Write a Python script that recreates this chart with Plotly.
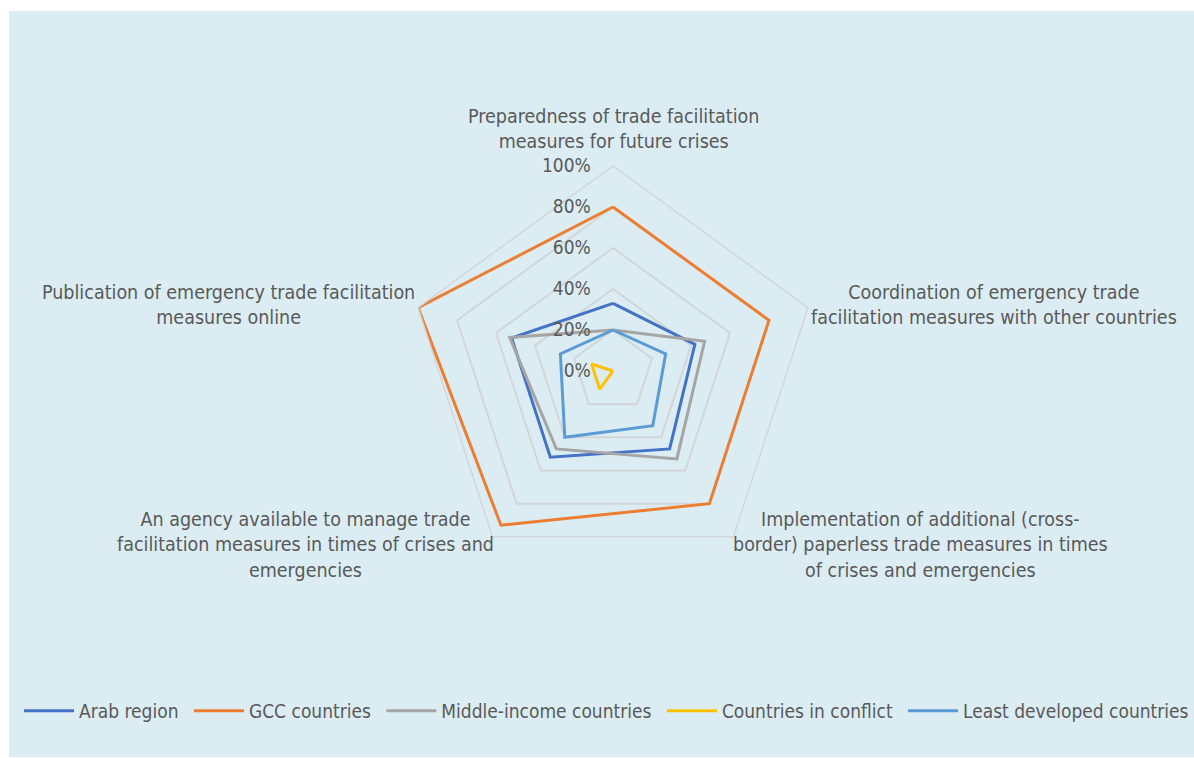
import plotly.graph_objects as go

# Survey dimensions (clockwise from the top)
categories = [
    "Preparedness of trade facilitation measures for future crises",
    "Coordination of emergency trade facilitation measures with other countries",
    "Implementation of additional (cross-border) paperless trade measures in times of crises and emergencies",
    "An agency available to manage trade facilitation measures in times of crises and emergencies",
    "Publication of emergency trade facilitation measures online",
]
# Wrapped versions of the category names used as axis labels
category_labels = [
    "Preparedness of trade facilitation<br>measures for future crises",
    "Coordination of emergency trade<br>facilitation measures with other countries",
    "Implementation of additional (cross-<br>border) paperless trade measures in times<br>of crises and emergencies",
    "An agency available to manage trade<br>facilitation measures in times of crises and<br>emergencies",
    "Publication of emergency trade facilitation<br>measures online",
]

series_names = [
    "Arab region",
    "GCC countries",
    "Middle-income countries",
    "Countries in conflict",
    "Least developed countries",
]
arab_region = [0.33, 0.42, 0.47, 0.52, 0.52]
gcc_countries = [0.80, 0.80, 0.80, 0.93, 1.00]
middle_income = [0.20, 0.47, 0.53, 0.47, 0.53]
countries_in_conflict = [0.00, 0.00, 0.00, 0.11, 0.11]
least_developed = [0.20, 0.27, 0.33, 0.40, 0.27]
series_values = [arab_region, gcc_countries, middle_income,
                 countries_in_conflict, least_developed]
series_colors = ["#4472C4", "#ED7D31", "#A5A5A5", "#FFC000", "#5B9BD5"]

radial_ticks = [0, 0.2, 0.4, 0.6, 0.8, 1.0]

FONT = "Liberation Sans Narrow, DejaVu Sans Condensed, Arial Narrow, sans-serif"
TEXT_COLOR = "#595959"
GRID_COLOR = "#D3D6D8"
PANEL_COLOR = "#DBEDF3"
NBSP = "\u00a0"  # widens the spacing between legend entries

fig = go.Figure()
for i, (name, vals, color) in enumerate(zip(series_names, series_values, series_colors)):
    legend_name = name if i == len(series_names) - 1 else name + NBSP
    fig.add_trace(go.Scatterpolar(
        r=vals + vals[:1],
        theta=categories + categories[:1],
        mode="lines",
        name=legend_name,
        line=dict(color=color, width=3),
        hovertemplate=name + ": %{r:.0%}<extra></extra>",
    ))

fig.update_layout(
    width=1194,
    height=758,
    margin=dict(l=0, r=0, t=0, b=0),
    paper_bgcolor="white",
    plot_bgcolor="rgba(0,0,0,0)",
    font=dict(family=FONT, size=20, color=TEXT_COLOR),
    shapes=[dict(
        type="rect", xref="paper", yref="paper",
        x0=9 / 1194, x1=1.0, y0=1 / 758, y1=747 / 758,
        fillcolor=PANEL_COLOR, line=dict(width=0), layer="below",
    )],
    polar=dict(
        domain=dict(x=[408 / 1194, 818 / 1194], y=[182 / 758, 592 / 758]),
        bgcolor="rgba(0,0,0,0)",
        gridshape="linear",
        radialaxis=dict(
            range=[0, 1],
            tickvals=radial_ticks,
            tickformat=".0%",
            angle=90,
            tickangle=90,
            side="counterclockwise",
            showline=False,
            ticks="outside",
            ticklen=15,
            tickcolor="rgba(0,0,0,0)",
            showgrid=True,
            gridcolor=GRID_COLOR,
            gridwidth=1.5,
            tickfont=dict(family=FONT, size=19, color=TEXT_COLOR),
        ),
        angularaxis=dict(
            categoryarray=categories,
            categoryorder="array",
            direction="clockwise",
            rotation=90,
            showgrid=False,
            showticklabels=False,
            ticks="",
            showline=True,
            linecolor=GRID_COLOR,
            linewidth=1.5,
        ),
    ),
    legend=dict(
        orientation="h",
        x=22 / 1194, xanchor="left",
        y=47 / 758, yanchor="middle",
        bgcolor="rgba(0,0,0,0)",
        font=dict(family=FONT, size=19, color=TEXT_COLOR),
        itemwidth=50,
        tracegroupgap=0,
    ),
)

# Category labels placed around the pentagon
label_pos = [(613, 129), (994, 305), (920, 545), (305, 545), (228, 305)]
for text, (px, py) in zip(category_labels, label_pos):
    fig.add_annotation(
        text=text, xref="paper", yref="paper",
        x=px / 1194, y=(758 - py) / 758,
        xanchor="center", yanchor="middle", align="center",
        showarrow=False,
        font=dict(family=FONT, size=19.5, color=TEXT_COLOR),
    )

fig.write_html("out.html")
